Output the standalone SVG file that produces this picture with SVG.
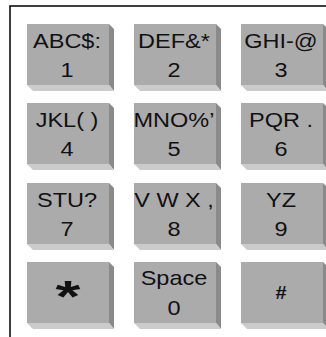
<svg xmlns="http://www.w3.org/2000/svg" width="326" height="337" viewBox="0 0 326 337">
<defs>
<style>
.face{fill:#ababab}
.side{fill:#8a8a8a}
.bot{fill:#cbcbcb}
.t{font-family:"Liberation Sans",Arial,sans-serif;font-size:21px;fill:#111;text-anchor:middle}
.b{font-family:"Liberation Sans",Arial,sans-serif;font-weight:bold;fill:#111;text-anchor:middle}
</style>
<g id="key">
<rect class="face" x="0" y="0" width="82" height="61"/>
<polygon class="side" points="82,0 87,5 87,67 82,61"/>
<polygon class="bot" points="0,61 82,61 87,67 6,67"/>
</g>
</defs>
<rect x="10" y="6" width="340" height="350" fill="#fff" stroke="#000" stroke-width="1.5"/>
<g id="connectors"/>
<g id="k1" transform="translate(27,24)"><use href="#key"/><text class="t" transform="matrix(1.12 0 0 1 40 24)">ABC$:</text><text class="t" transform="matrix(1.12 0 0 1 40 53)">1</text></g>
<g id="k2" transform="translate(134,24)"><use href="#key"/><text class="t" transform="matrix(1.12 0 0 1 40 24)">DEF&amp;*</text><text class="t" transform="matrix(1.12 0 0 1 40 53)">2</text></g>
<g id="k3" transform="translate(241,24)"><use href="#key"/><text class="t" transform="matrix(1.12 0 0 1 40 24)">GHI-@</text><text class="t" transform="matrix(1.12 0 0 1 40 53)">3</text></g>
<g id="k4" transform="translate(27,103)"><use href="#key"/><text class="t" transform="matrix(1.12 0 0 1 40 24)">JKL( )</text><text class="t" transform="matrix(1.12 0 0 1 40 53)">4</text></g>
<g id="k5" transform="translate(134,103)"><use href="#key"/><text class="t" transform="matrix(1.12 0 0 1 40 24)">MNO%’</text><text class="t" transform="matrix(1.12 0 0 1 40 53)">5</text></g>
<g id="k6" transform="translate(241,103)"><use href="#key"/><text class="t" transform="matrix(1.12 0 0 1 40 24)">PQR .</text><text class="t" transform="matrix(1.12 0 0 1 40 53)">6</text></g>
<g id="k7" transform="translate(27,183)"><use href="#key"/><text class="t" transform="matrix(1.12 0 0 1 40 24)">STU?</text><text class="t" transform="matrix(1.12 0 0 1 40 53)">7</text></g>
<g id="k8" transform="translate(134,183)"><use href="#key"/><text class="t" transform="matrix(1.12 0 0 1 40 24)">V W X ,</text><text class="t" transform="matrix(1.12 0 0 1 40 53)">8</text></g>
<g id="k9" transform="translate(241,183)"><use href="#key"/><text class="t" transform="matrix(1.12 0 0 1 40 24)">YZ</text><text class="t" transform="matrix(1.12 0 0 1 40 53)">9</text></g>
<g id="kstar" transform="translate(27,262)"><use href="#key"/><text class="b" font-size="44" transform="matrix(1.45 0 0 1 41 50)">*</text></g>
<g id="k0" transform="translate(134,262)"><use href="#key"/><text class="t" transform="matrix(1.12 0 0 1 40 23)">Space</text><text class="t" transform="matrix(1.12 0 0 1 40 53)">0</text></g>
<g id="khash" transform="translate(241,262)"><use href="#key"/><text class="b" font-size="19" transform="matrix(1.05 0 0 1 40 37)">#</text></g>
</svg>
